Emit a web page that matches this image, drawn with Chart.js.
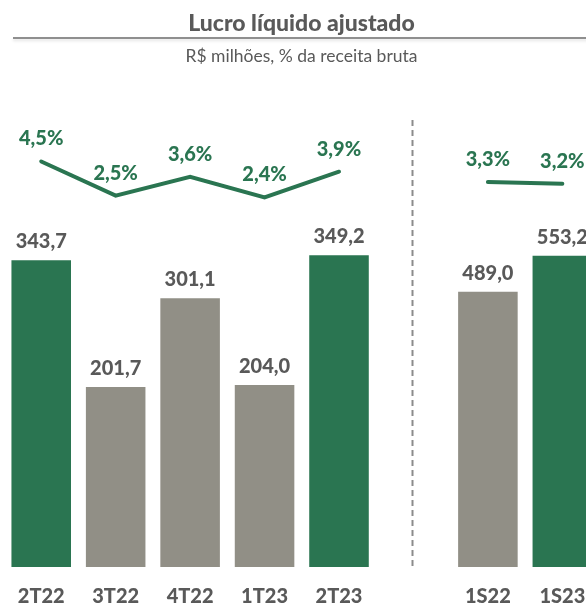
<!DOCTYPE html>
<html>
<head>
<meta charset="utf-8">
<script src="https://cdn.jsdelivr.net/npm/chart.js@4/dist/chart.umd.min.js"></script>
<style>
  html, body { margin: 0; padding: 0; background: #fff; overflow: hidden; }
  #wrap { position: relative; width: 603px; height: 605px; overflow: hidden; font-family: Lato, sans-serif; }
  #title { position: absolute; top: 8px; left: 0; width: 603px; text-align: center; font-weight: 900; font-size: 23px; line-height: 28px; color: #595959; }
  #rule { position: absolute; top: 37px; left: 13px; width: 578px; height: 2px; background: #8f8f8f; box-shadow: 0 2px 3px rgba(0,0,0,0.12); }
  #subtitle { position: absolute; top: 45px; left: 0; width: 603px; text-align: center; font-size: 17.5px; line-height: 22px; color: #595959; }
  #chart { position: absolute; top: 0; left: 0; }
</style>
</head>
<body>
<div id="wrap">
  <canvas id="chart" width="603" height="627"></canvas>
  <div id="title">Lucro líquido ajustado</div>
  <div id="rule"></div>
  <div id="subtitle">R$ milhões, % da receita bruta</div>
</div>
<script>
// data
const labels = ['2T22', '3T22', '4T22', '1T23', '2T23', '', '1S22', '1S23'];
const quarterValues = [343.7, 201.7, 301.1, 204.0, 349.2, null, null, null];
const semesterValues = [null, null, null, null, null, null, 489.0, 553.2];
const marginPct = [4.5, 2.5, 3.6, 2.4, 3.9, null, 3.3, 3.2];
const highlight = [true, false, false, false, true, false, false, true];

const GREEN = '#2a7551';
const GRAY = '#918f86';
const TEXT = '#595959';
const barColors = highlight.map(h => h ? GREEN : GRAY);
const fmt = v => v.toFixed(1).replace('.', ',');

// draws value labels + dashed divider
const labelPlugin = {
  id: 'labelPlugin',
  afterDatasetsDraw(chart) {
    const ctx = chart.ctx;
    const xs = chart.scales.x;
    // divider between quarters and semesters
    const dx = Math.round(xs.getPixelForValue(5)) - 0.5;
    ctx.save();
    ctx.strokeStyle = '#8c8c8c';
    ctx.lineWidth = 2;
    ctx.setLineDash([6, 4]);
    ctx.beginPath(); ctx.moveTo(dx, 120); ctx.lineTo(dx, 566); ctx.stroke();
    ctx.restore();

    ctx.save();
    ctx.textAlign = 'center';
    ctx.textBaseline = 'alphabetic';
    ctx.font = '900 20px Lato';
    chart.data.datasets.forEach((ds, i) => {
      const meta = chart.getDatasetMeta(i);
      meta.data.forEach((el, j) => {
        const v = ds.data[j];
        if (v === null || v === undefined) return;
        if (ds.type === 'line') {
          ctx.fillStyle = GREEN;
          ctx.fillText(fmt(v) + '%', el.x, el.y - 16);
        } else {
          ctx.fillStyle = TEXT;
          ctx.fillText(fmt(v), el.x, el.y - 12);
        }
      });
    });
    ctx.restore();
  }
};

new Chart(document.getElementById('chart'), {
  data: {
    labels: labels,
    datasets: [
      { type: 'line', data: marginPct, yAxisID: 'yP', borderColor: GREEN, borderWidth: 4,
        pointRadius: 0, spanGaps: false, tension: 0, borderCapStyle: 'round', order: 0 },
      { type: 'bar', data: quarterValues, yAxisID: 'yQ', backgroundColor: barColors, order: 1 },
      { type: 'bar', data: semesterValues, yAxisID: 'yS', backgroundColor: barColors, order: 2 }
    ]
  },
  options: {
    responsive: false,
    devicePixelRatio: 1,
    animation: false,
    layout: { padding: { top: 100, left: 0, right: 0, bottom: 0 } },
    datasets: { bar: { grouped: false, categoryPercentage: 1, barPercentage: 0.8 } },
    plugins: { legend: { display: false }, tooltip: { enabled: false } },
    scales: {
      x: {
        grid: { display: false, drawTicks: false },
        border: { display: false },
        ticks: { color: TEXT, padding: 18, font: { family: 'Lato', weight: '900', size: 20 } }
      },
      yQ: { display: false, min: 0, max: 523.1 },
      yS: { display: false, min: 0, max: 829.8 },
      yP: { display: false, min: -19.23, max: 8.096 }
    }
  },
  plugins: [labelPlugin]
});
</script>
</body>
</html>
